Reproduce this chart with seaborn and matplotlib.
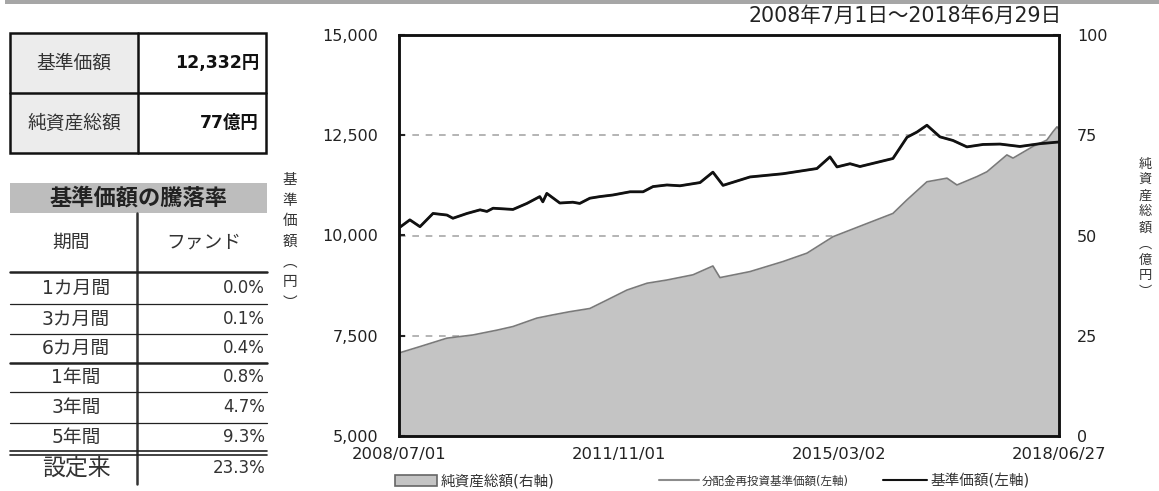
import pandas as pd
import seaborn as sns
import matplotlib.pyplot as plt
import matplotlib.dates as mdates
from matplotlib.patches import Rectangle, Patch
from matplotlib.lines import Line2D

sns.set_style("white")
# digits/latin from DejaVu, kana/kanji fall back to Noto CJK
plt.rcParams['font.family'] = ['DejaVu Sans', 'Noto Sans CJK JP']

# 基準価額 (left axis, 円)
nav_dates = ['2008-07-01', '2008-08-30', '2008-10-25', '2009-01-05', '2009-03-23', '2009-04-25',
             '2009-07-12', '2009-09-22', '2009-10-30', '2009-12-03', '2010-03-23', '2010-06-08',
             '2010-08-18', '2010-09-04', '2010-09-26', '2010-12-07', '2011-02-17', '2011-03-27',
             '2011-05-22', '2011-07-16', '2011-09-26', '2011-12-30', '2012-03-11', '2012-05-05',
             '2012-07-21', '2012-10-01', '2013-01-20', '2013-04-01', '2013-05-27', '2013-10-23',
             '2014-04-23', '2014-10-28', '2015-01-08', '2015-02-16', '2015-04-29', '2015-06-23',
             '2015-12-22', '2016-03-09', '2016-05-03', '2016-06-27', '2016-09-07', '2016-11-18',
             '2017-02-03', '2017-05-03', '2017-08-05', '2017-11-23', '2018-03-14', '2018-06-27']
nav_values = [10190, 10390, 10220, 10550, 10510, 10430,
              10550, 10640, 10600, 10680, 10650, 10800,
              10970, 10840, 11050, 10810, 10830, 10800,
              10930, 10970, 11010, 11090, 11090, 11220,
              11260, 11240, 11320, 11580, 11250, 11460,
              11540, 11670, 11960, 11710, 11790, 11720,
              11920, 12450, 12580, 12750, 12460, 12370,
              12210, 12270, 12280, 12220, 12290, 12332]

# 純資産総額 (right axis, 億円)
aum_dates = ['2008-07-01', '2008-10-25', '2009-03-23', '2009-08-14', '2009-12-25', '2010-03-23',
             '2010-08-02', '2010-10-29', '2011-01-31', '2011-05-22', '2011-08-24', '2011-12-13',
             '2012-04-02', '2012-07-21', '2012-12-12', '2013-04-01', '2013-05-10', '2013-10-23',
             '2014-04-23', '2014-09-03', '2015-01-25', '2015-08-01', '2015-12-22', '2016-03-09',
             '2016-06-27', '2016-10-16', '2016-12-10', '2017-03-31', '2017-05-25', '2017-09-12',
             '2017-10-16', '2018-02-03', '2018-04-21', '2018-05-25', '2018-06-16', '2018-06-27']
aum_values = [20.7, 22.3, 24.4, 25.2, 26.4, 27.3,
              29.4, 30.2, 31.0, 31.8, 33.9, 36.4,
              38.1, 38.9, 40.2, 42.4, 39.5, 41.0,
              43.5, 45.6, 49.7, 53.0, 55.5, 58.9,
              63.4, 64.3, 62.6, 64.7, 65.9, 70.1,
              69.3, 72.2, 73.8, 75.9, 77.1, 76.5]

x_ticks = ['2008-07-01', '2011-11-01', '2015-03-02', '2018-06-27']

summary_labels = ['基準価額', '純資産総額']
summary_values = ['12,332円', '77億円']

periods = ['1カ月間', '3カ月間', '6カ月間', '1年間', '3年間', '5年間', '設定来']
returns = ['0.0%', '0.1%', '0.4%', '0.8%', '4.7%', '9.3%', '23.3%']

nav = pd.DataFrame({'date': pd.to_datetime(nav_dates), 'value': nav_values})
aum = pd.DataFrame({'date': pd.to_datetime(aum_dates), 'value': aum_values})

W, H = 1159, 491
fig = plt.figure(figsize=(W / 100, H / 100), dpi=100)

# ---- main chart ----
ax = fig.add_axes([399 / W, 1 - 436 / H, 660 / W, 401 / H])
ax2 = ax.twinx()
ax.set_zorder(ax2.get_zorder() + 1)
ax.patch.set_visible(False)
ax2.set_facecolor('#f7f7f7')

ax2.set_ylim(0, 100)
ax2.set_yticks([0, 25, 50, 75, 100])
ax2.yaxis.grid(True, ls=(0, (4, 4)), color='#a8a8a8', lw=1.2)
ax2.set_axisbelow(True)
ax2.fill_between(aum['date'], aum['value'], color='#c4c4c4', lw=0, zorder=1)
sns.lineplot(data=aum, x='date', y='value', ax=ax2, color='#7a7a7a', lw=1.2, zorder=2)

sns.lineplot(data=nav, x='date', y='value', ax=ax, color='#8c8c8c', lw=1.5)
sns.lineplot(data=nav, x='date', y='value', ax=ax, color='#111111', lw=2.0)

ax.set_ylim(5000, 15000)
ax.set_yticks([5000, 7500, 10000, 12500, 15000])
ax.yaxis.set_major_formatter(plt.FuncFormatter(lambda v, p: f'{int(v):,}'))
ax.set_xlim(pd.Timestamp(x_ticks[0]), pd.Timestamp(x_ticks[-1]))
ax.set_xticks(pd.to_datetime(x_ticks))
ax.xaxis.set_major_formatter(mdates.DateFormatter('%Y/%m/%d'))
ax.set_xlabel('')
ax.set_ylabel('')
ax2.set_xlabel('')
ax2.set_ylabel('')

for a in (ax, ax2):
    for s in a.spines.values():
        s.set_color('#111111')
        s.set_linewidth(1.8)
ax.tick_params(axis='y', direction='in', length=4, width=1.5, pad=15, labelsize=11.5, colors='#222222')
ax.tick_params(axis='x', direction='in', length=4, width=1.5, pad=8, labelsize=11.8, colors='#222222')
ax2.tick_params(axis='y', direction='in', length=4, width=1.5, pad=13, labelsize=11.5, colors='#222222')

fig.text(1062 / W, 1 - 16 / H, '2008年7月1日～2018年6月29日', ha='right', va='center',
         fontsize=14.8, color='#222222')
fig.text(290 / W, 1 - 241 / H, '\n'.join('基準価額︵円︶'), ha='center', va='center',
         fontsize=10.5, linespacing=1.45, color='#333333')
fig.text(1145 / W, 1 - 228 / H, '\n'.join('純資産総額︵億円︶'), ha='center', va='center',
         fontsize=9.5, linespacing=1.3, color='#333333')

# legend
leg_items = [
    (Patch(facecolor='#c4c4c4', edgecolor='#666666', lw=1.2), '純資産総額(右軸)', 395, 10.5, 2.9),
    (Line2D([], [], color='#8c8c8c', lw=1.5), '分配金再投資基準価額(左軸)', 659, 8.3, 3.5),
    (Line2D([], [], color='#111111', lw=1.5), '基準価額(左軸)', 883, 10.5, 3.0),
]
for h, lab, xp, fs, hl in leg_items:
    fig.legend([h], [lab], loc='center left', bbox_to_anchor=(xp / W, 1 - 481 / H),
               frameon=False, fontsize=fs, handlelength=hl, handletextpad=0.25,
               borderpad=0, borderaxespad=0, labelcolor='#333333')

# ---- tables (pixel coordinate overlay) ----
tx = fig.add_axes([0, 0, 1, 1], zorder=-1)
tx.set_xlim(0, W)
tx.set_ylim(H, 0)
tx.axis('off')

tx.add_patch(Rectangle((5, 0), W - 5, 3.5, color='#a6a6a6', lw=0))

# summary table
tx.add_patch(Rectangle((10, 33), 128, 120, facecolor='#ececec', edgecolor='none'))
tx.add_patch(Rectangle((10, 33), 256, 120, facecolor='none', edgecolor='#111111', lw=1.8))
tx.plot([10, 266], [93, 93], color='#111111', lw=1.8)
tx.plot([138, 138], [33, 153], color='#111111', lw=1.8)
for i, (lab, val) in enumerate(zip(summary_labels, summary_values)):
    yc = 63 + 60 * i
    tx.text(74, yc, lab, ha='center', va='center', fontsize=13.5, color='#333333')
    tx.text(259, yc, val, ha='right', va='center', fontsize=12.5, fontweight='bold', color='#111111')

# return table
tx.add_patch(Rectangle((10, 183), 257, 30, facecolor='#bdbdbd', edgecolor='none'))
tx.text(138, 198, '基準価額の騰落率', ha='center', va='center', fontsize=16,
        fontweight='bold', color='#222222')
tx.plot([137, 137], [213, 484], color='#333333', lw=1.8)
tx.text(71, 242, '期間', ha='center', va='center', fontsize=13.5, color='#333333')
tx.text(204, 242, 'ファンド', ha='center', va='center', fontsize=13.5, color='#333333')

row_lines = [(272, 1.8), (304, 0.9), (334, 0.9), (363, 1.8), (392, 0.9), (423, 0.9),
             (451, 1.2), (455, 1.2)]
for yl, lw in row_lines:
    tx.plot([10, 267], [yl, yl], color='#222222', lw=lw)

row_centers = [288, 319, 348, 377, 407, 437, 468]
for yc, p, r in zip(row_centers, periods, returns):
    fs = 16.5 if p == '設定来' else 13.5
    tx.text(76, yc, p, ha='center', va='center', fontsize=fs, color='#333333')
    tx.text(265, yc, r, ha='right', va='center', fontsize=12, color='#333333')

fig.savefig('out.png', dpi=100)
